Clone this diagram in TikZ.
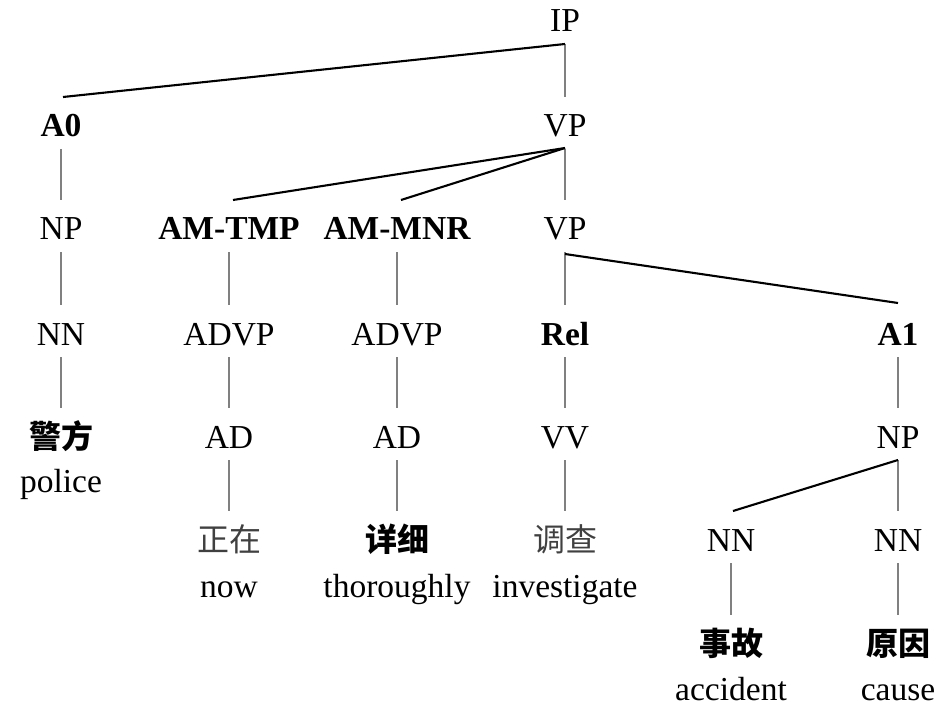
\documentclass[tikz,border=0pt]{standalone}
\usepackage{fontspec}
\setmainfont{Liberation Serif}
\newfontfamily\cjk{Noto Sans CJK SC}
\tikzset{
  lab/.style={anchor=base, inner sep=0pt, font=\fontsize{33.5}{40}\selectfont},
  blab/.style={anchor=base, inner sep=0pt, font=\fontsize{33.5}{40}\selectfont\bfseries},
  zh/.style={anchor=base, inner sep=0pt, text=black!75, font=\fontsize{32}{40}\selectfont\cjk},
  zhb/.style={anchor=base, inner sep=0pt, font=\fontsize{32}{40}\selectfont\cjk\bfseries},
  vline/.style={draw=black!50, line width=1.1pt},
  dline/.style={draw=black, line width=2.1pt, line join=round}
}
\begin{document}
\begin{tikzpicture}[x=1pt,y=-1pt]
\useasboundingbox (0,0) rectangle (938,706);
% nodes
\node[lab]  (ip)    at (565,32)  {IP};
\node[blab] (a0)    at (61,137)  {A0};
\node[lab]  (vp1)   at (565,137) {VP};
\node[lab]  (np1)   at (61,240)  {NP};
\node[blab] (tmp)   at (229,240) {AM-TMP};
\node[blab] (mnr)   at (397,240) {AM-MNR};
\node[lab]  (vp2)   at (565,240) {VP};
\node[lab]  (nn1)   at (61,345)  {NN};
\node[lab]  (advp1) at (229,345) {ADVP};
\node[lab]  (advp2) at (397,345) {ADVP};
\node[blab] (rel)   at (565,345) {Rel};
\node[blab] (a1)    at (898,345) {A1};
\node[zhb]  (jingfang) at (61,448) {警方};
\node[lab]  (police)   at (61,492) {police};
\node[lab]  (ad1)   at (229,448) {AD};
\node[lab]  (ad2)   at (397,448) {AD};
\node[lab]  (vv)    at (565,448) {VV};
\node[lab]  (np2)   at (898,448) {NP};
\node[zh]   (zhengzai) at (229,551) {正在};
\node[lab]  (now)      at (229,597) {now};
\node[zhb]  (xiangxi)  at (397,551) {详细};
\node[lab]  (thor)     at (397,597) {thoroughly};
\node[zh]   (diaocha)  at (565,551) {调查};
\node[lab]  (inv)      at (565,597) {investigate};
\node[lab]  (nn2)   at (731,551) {NN};
\node[lab]  (nn3)   at (898,551) {NN};
\node[zhb]  (shigu)    at (731,655) {事故};
\node[lab]  (acc)      at (731,700) {accident};
\node[zhb]  (yuanyin)  at (898,655) {原因};
\node[lab]  (cause)    at (898,700) {cause};
% vertical connectors
\draw[vline] ([yshift=-12pt]ip.base) -- ([yshift=40pt]vp1.base);
\draw[vline] ([yshift=-12pt]a0.base) -- ([yshift=40pt]np1.base);
\draw[vline] ([yshift=-12pt]vp1.base) -- ([yshift=40pt]vp2.base);
\draw[vline] ([yshift=-12pt]np1.base) -- ([yshift=40pt]nn1.base);
\draw[vline] ([yshift=-12pt]nn1.base) -- ([yshift=40pt]jingfang.base);
\draw[vline] ([yshift=-12pt]tmp.base) -- ([yshift=40pt]advp1.base);
\draw[vline] ([yshift=-12pt]advp1.base) -- ([yshift=40pt]ad1.base);
\draw[vline] ([yshift=-12pt]ad1.base) -- ([yshift=40pt]zhengzai.base);
\draw[vline] ([yshift=-12pt]mnr.base) -- ([yshift=40pt]advp2.base);
\draw[vline] ([yshift=-12pt]advp2.base) -- ([yshift=40pt]ad2.base);
\draw[vline] ([yshift=-12pt]ad2.base) -- ([yshift=40pt]xiangxi.base);
\draw[vline] ([yshift=-12pt]vp2.base) -- ([yshift=40pt]rel.base);
\draw[vline] ([yshift=-12pt]rel.base) -- ([yshift=40pt]vv.base);
\draw[vline] ([yshift=-12pt]vv.base) -- ([yshift=40pt]diaocha.base);
\draw[vline] ([yshift=-12pt]a1.base) -- ([yshift=40pt]np2.base);
\draw[vline] ([yshift=-12pt]np2.base) -- ([yshift=40pt]nn3.base);
\draw[vline] ([yshift=-12pt]nn2.base) -- ([yshift=40pt]shigu.base);
\draw[vline] ([yshift=-12pt]nn3.base) -- ([yshift=40pt]yuanyin.base);
% diagonal connectors
\draw[dline] ([yshift=-12pt]ip.base) -- ([xshift=2pt,yshift=40pt]a0.base);
\draw[dline] ([yshift=-11pt]vp1.base) -- ([xshift=4pt,yshift=40pt]tmp.base);
\draw[dline] ([yshift=-11pt]vp1.base) -- ([xshift=4pt,yshift=40pt]mnr.base);
\draw[dline] ([yshift=-14pt]vp2.base) -- ([yshift=42pt]a1.base);
\draw[dline] ([yshift=-12pt]np2.base) -- ([xshift=2pt,yshift=40pt]nn2.base);
\end{tikzpicture}
\end{document}
